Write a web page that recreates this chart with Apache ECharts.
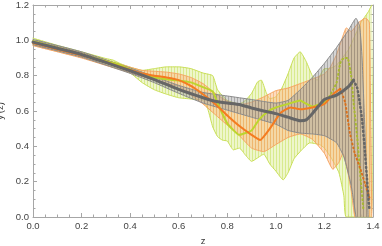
<!DOCTYPE html>
<html><head><meta charset="utf-8">
<script src="https://cdn.jsdelivr.net/npm/echarts@6/dist/echarts.min.js"></script>
<style>html,body{margin:0;padding:0;background:#fff}#c{width:382px;height:246px}</style>
</head><body><div id="c"></div>
<script>
// ---- data ----
const xTicks = [0, 0.2, 0.4, 0.6, 0.8, 1.0, 1.2, 1.4];
const yTicks = [0, 0.2, 0.4, 0.6, 0.8, 1.0, 1.2];

const greenHi = [[0,1.012],[0.1,0.972],[0.2,0.935],[0.3,0.897],[0.33,0.888],[0.36,0.868],[0.4,0.848],[0.45,0.83],[0.5,0.84],[0.55,0.85],[0.6,0.85],[0.65,0.84],[0.7,0.815],[0.74,0.80],[0.76,0.72],[0.8,0.66],[0.85,0.64],[0.875,0.66],[0.9,0.70],[0.925,0.765],[0.94,0.775],[0.96,0.705],[0.975,0.67],[1.0,0.68],[1.025,0.73],[1.05,0.81],[1.075,0.9],[1.1,0.935],[1.125,0.88],[1.15,0.80],[1.17,0.775],[1.2,0.84],[1.22,0.84],[1.25,0.86],[1.3,0.95],[1.35,1.1],[1.38,1.16],[1.395,1.2]];
const greenLo = [[0,0.975],[0.1,0.942],[0.2,0.907],[0.3,0.866],[0.4,0.815],[0.45,0.76],[0.5,0.72],[0.55,0.695],[0.6,0.675],[0.65,0.668],[0.7,0.66],[0.72,0.61],[0.74,0.51],[0.76,0.455],[0.78,0.435],[0.8,0.43],[0.825,0.38],[0.85,0.39],[0.875,0.35],[0.9,0.315],[0.95,0.355],[0.975,0.30],[1.0,0.26],[1.03,0.21],[1.05,0.25],[1.075,0.33],[1.1,0.37],[1.14,0.42],[1.18,0.41],[1.2,0.39],[1.23,0.33],[1.26,0.25],[1.28,0.12],[1.29,0],[1.395,0]];
const greenMid = [[0,0.995],[0.1,0.958],[0.2,0.922],[0.3,0.882],[0.35,0.865],[0.4,0.835],[0.45,0.805],[0.5,0.79],[0.55,0.78],[0.6,0.772],[0.65,0.762],[0.7,0.735],[0.74,0.71],[0.76,0.645],[0.8,0.53],[0.85,0.465],[0.9,0.49],[0.93,0.55],[0.97,0.60],[1.0,0.62],[1.05,0.64],[1.1,0.66],[1.12,0.645],[1.15,0.625],[1.2,0.65],[1.22,0.68]];
const greenDot = [[1.22,0.68],[1.25,0.76],[1.265,0.87],[1.28,0.9],[1.295,0.9],[1.31,0.8],[1.32,0.65],[1.335,0.45],[1.35,0.2],[1.36,0.05]];

const orangeHi = [[0,1.0],[0.2,0.93],[0.4,0.848],[0.45,0.83],[0.5,0.825],[0.55,0.82],[0.6,0.81],[0.65,0.79],[0.7,0.755],[0.75,0.70],[0.8,0.655],[0.85,0.635],[0.9,0.65],[0.95,0.68],[1.0,0.715],[1.05,0.73],[1.1,0.755],[1.15,0.78],[1.2,0.81],[1.225,0.85],[1.25,0.92],[1.275,1.02],[1.29,1.07],[1.31,1.05],[1.34,1.1],[1.37,1.126],[1.385,1.1],[1.39,0.6],[1.395,0]];
const orangeLo = [[0,0.97],[0.2,0.90],[0.4,0.816],[0.45,0.795],[0.5,0.775],[0.55,0.755],[0.6,0.74],[0.65,0.69],[0.7,0.64],[0.75,0.58],[0.8,0.52],[0.85,0.46],[0.9,0.39],[0.95,0.37],[1.0,0.41],[1.05,0.45],[1.1,0.47],[1.15,0.44],[1.2,0.36],[1.235,0.27],[1.26,0.31],[1.276,0.36],[1.29,0.30],[1.31,0.15],[1.325,0.0]];
const orangeMid = [[0,0.985],[0.1,0.95],[0.2,0.915],[0.3,0.877],[0.4,0.832],[0.45,0.812],[0.5,0.80],[0.55,0.79],[0.6,0.775],[0.65,0.742],[0.7,0.695],[0.75,0.64],[0.8,0.575],[0.85,0.515],[0.9,0.465],[0.935,0.436],[0.975,0.50],[1.02,0.59],[1.06,0.62],[1.1,0.61],[1.15,0.62],[1.2,0.64],[1.24,0.70],[1.265,0.725]];
const orangeDot = [[1.265,0.725],[1.285,0.65],[1.305,0.475],[1.325,0.36],[1.346,0.28],[1.367,0.19],[1.387,0.10]];

const grayHi = [[0,1.005],[0.2,0.935],[0.4,0.843],[0.5,0.795],[0.6,0.745],[0.7,0.705],[0.8,0.685],[0.9,0.665],[1.0,0.645],[1.05,0.66],[1.1,0.72],[1.15,0.79],[1.2,0.87],[1.25,0.96],[1.3,1.06],[1.33,1.125],[1.345,1.08],[1.355,0.9],[1.365,0.55],[1.375,0.2],[1.38,0]];
const grayLo = [[0,0.975],[0.2,0.905],[0.4,0.813],[0.5,0.76],[0.6,0.70],[0.7,0.645],[0.8,0.605],[0.9,0.565],[1.0,0.525],[1.05,0.49],[1.1,0.475],[1.15,0.47],[1.2,0.46],[1.25,0.42],[1.28,0.34],[1.31,0.18],[1.33,0.0]];
const grayMid = [[0,0.99],[0.1,0.955],[0.2,0.92],[0.3,0.875],[0.4,0.828],[0.5,0.778],[0.6,0.722],[0.7,0.675],[0.75,0.655],[0.8,0.645],[0.85,0.637],[0.9,0.617],[0.95,0.60],[1.0,0.585],[1.05,0.565],[1.1,0.545],[1.125,0.55],[1.15,0.585],[1.2,0.665],[1.25,0.69],[1.3,0.74],[1.32,0.775]];
const grayDot = [[1.32,0.775],[1.335,0.73],[1.345,0.65],[1.355,0.55],[1.365,0.40],[1.375,0.22],[1.385,0.04]];

// ---- styling helpers ----
function stripes(base, line) {
  const c = document.createElement('canvas');
  c.width = 3; c.height = 2;
  const g = c.getContext('2d');
  g.fillStyle = base; g.fillRect(0, 0, 3, 2);
  g.fillStyle = line; g.fillRect(0, 0, 1, 2);
  return c;
}
function band(hi, lo, pattern, z) {
  return {
    type: 'custom', silent: true, z: z, clip: true,
    data: [0],
    renderItem: function (params, api) {
      const pts = [];
      hi.forEach(p => pts.push(api.coord(p)));
      lo.slice().reverse().forEach(p => pts.push(api.coord(p)));
      return { type: 'polygon', shape: { points: pts, smooth: 0.15 },
               style: { fill: { image: pattern, repeat: 'repeat' }, stroke: null } };
    }
  };
}
function line(data, color, width, z, type) {
  return { type: 'line', data: data, showSymbol: false, smooth: 0.15, silent: true, z: z,
           lineStyle: { color: color, width: width, type: type || 'solid', cap: 'round' } };
}

const frame = '#a6a6a6';
const labelColor = '#444';
const font = 'Liberation Sans, Arial, sans-serif';
function xAx(pos, show) {
  return { type: 'value', min: 0, max: 1.4, interval: 0.2, position: pos,
    axisLine: { show: true, onZero: false, lineStyle: { color: frame, width: 1 } },
    axisTick: { show: true, inside: true, length: 4, lineStyle: { color: frame } },
    minorTick: { show: true, splitNumber: 4, length: 2.5, lineStyle: { color: frame } },
    splitLine: { show: false },
    axisLabel: { show: show, color: labelColor, fontSize: 9.5, fontFamily: font, margin: 4,
                 formatter: v => v.toFixed(1) },
    name: show ? 'z' : '', nameLocation: 'middle', nameGap: 17,
    nameTextStyle: { color: '#333', fontSize: 9.5, fontFamily: font } };
}
function yAx(pos, show) {
  return { type: 'value', min: 0, max: 1.2, interval: 0.2, position: pos,
    axisLine: { show: true, onZero: false, lineStyle: { color: frame, width: 1 } },
    axisTick: { show: true, inside: true, length: 4, lineStyle: { color: frame } },
    minorTick: { show: true, splitNumber: 4, length: 2.5, lineStyle: { color: frame } },
    splitLine: { show: false },
    axisLabel: { show: show, color: labelColor, fontSize: 9.5, fontFamily: font, margin: 4,
                 formatter: v => v.toFixed(1) },
    name: show ? "y'(z)" : '', nameLocation: 'middle', nameGap: 18, nameRotate: 90,
    nameTextStyle: { color: '#333', fontSize: 9.5, fontFamily: font } };
}

const gPat = stripes('rgba(224,238,160,0.55)', 'rgba(205,228,110,0.65)');
const oPat = stripes('rgba(250,185,130,0.5)', 'rgba(244,160,90,0.55)');
const yPat = stripes('rgba(155,155,155,0.42)', 'rgba(125,125,125,0.5)');

const chart = echarts.init(document.getElementById('c'), null, { renderer: 'canvas' });
chart.setOption({
  animation: false,
  backgroundColor: '#fff',
  grid: { left: 33, right: 9, top: 5, bottom: 29, containLabel: false, outerBoundsMode: 'none' },
  xAxis: [xAx('bottom', true), xAx('top', false)],
  yAxis: [yAx('left', true), yAx('right', false)],
  series: [
    band(greenHi, greenLo, gPat, 1),
    line(greenHi, '#c8de55', 1, 2), line(greenLo, '#c8de55', 1, 2),
    band(orangeHi, orangeLo, oPat, 3),
    line(orangeHi, '#f5a562', 1, 4), line(orangeLo, '#f5a562', 1, 4),
    band(grayHi, grayLo, yPat, 5),
    line(grayHi, '#8a8a8a', 1, 6), line(grayLo, '#8a8a8a', 1, 6),
    line(greenMid, '#bcd52e', 2, 7), line(greenDot, '#a8b830', 2, 7, [1, 3]),
    line(orangeMid, '#f47b20', 2, 8), line(orangeDot, '#d8701c', 2, 8, [1, 3]),
    line(grayMid, '#666666', 3, 9), line(grayDot, '#666666', 2.5, 9, [1, 3])
  ]
});
</script>
</body></html>
